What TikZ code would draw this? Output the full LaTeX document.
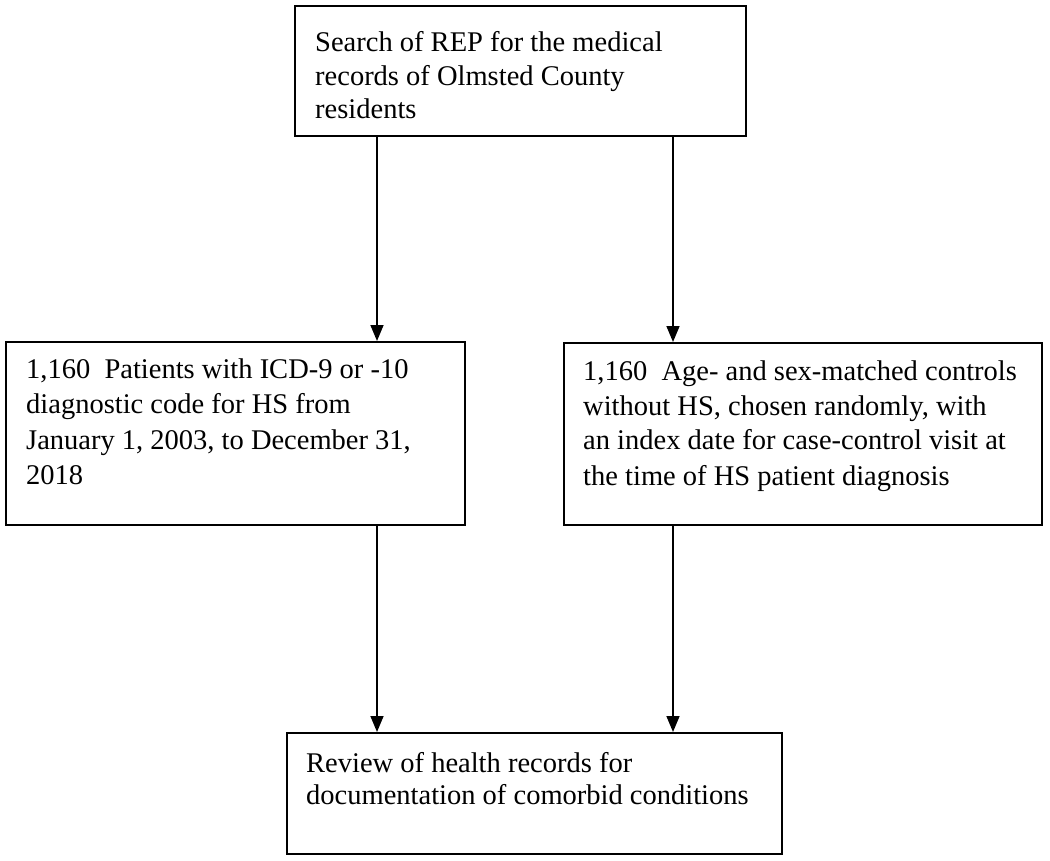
\documentclass[tikz,border=0pt]{standalone}
\usepackage{fontspec}
\setmainfont{Liberation Serif}
\usetikzlibrary{arrows.meta}
\tikzset{
  box/.style={draw=black, line width=2pt, rectangle, inner sep=0pt, anchor=north west},
  txt/.style={anchor=base west, inner sep=0pt},
  arr/.style={draw=black, line width=1.6pt, -{Triangle[width=13pt,length=16pt]}}
}
\newcommand{\boxtext}[2]{\parbox[t]{600pt}{\fontsize{28.5}{#1}\selectfont\raggedright #2}}
\begin{document}
\begin{tikzpicture}[x=1pt,y=-1pt]
\useasboundingbox (0,0) rectangle (1050,861);
% boxes
\node[box, minimum width=451pt, minimum height=130pt] (top) at (294,5) {};
\node[box, minimum width=459pt, minimum height=183pt] (left) at (5,341) {};
\node[box, minimum width=478pt, minimum height=182pt] (right) at (563,342) {};
\node[box, minimum width=495pt, minimum height=121pt] (bottom) at (286,732) {};
% texts
\node[txt] (ttop) at (315,52) {\boxtext{33.5pt}{Search of REP for the medical\\records of Olmsted County\\residents}};
\node[txt] (tleft) at (26,378) {\boxtext{35.5pt}{1,160\ \ Patients with ICD-9 or -10\\diagnostic code for HS from\\January 1, 2003, to December 31,\\2018}};
\node[txt] (tright) at (583,380) {\boxtext{35pt}{1,160\ \ Age- and sex-matched controls\\without HS, chosen randomly, with\\an index date for case-control visit at\\the time of HS patient diagnosis}};
\node[txt] (tbottom) at (306,772) {\boxtext{32pt}{Review of health records for\\documentation of comorbid conditions}};
% arrow columns
\coordinate (cl) at (377,0);
\coordinate (cr) at (673,0);
\draw[arr] (top.south -| cl) -- (left.north -| cl);
\draw[arr] (top.south -| cr) -- (right.north -| cr);
\draw[arr] (left.south -| cl) -- (bottom.north -| cl);
\draw[arr] (right.south -| cr) -- (bottom.north -| cr);
\end{tikzpicture}
\end{document}
